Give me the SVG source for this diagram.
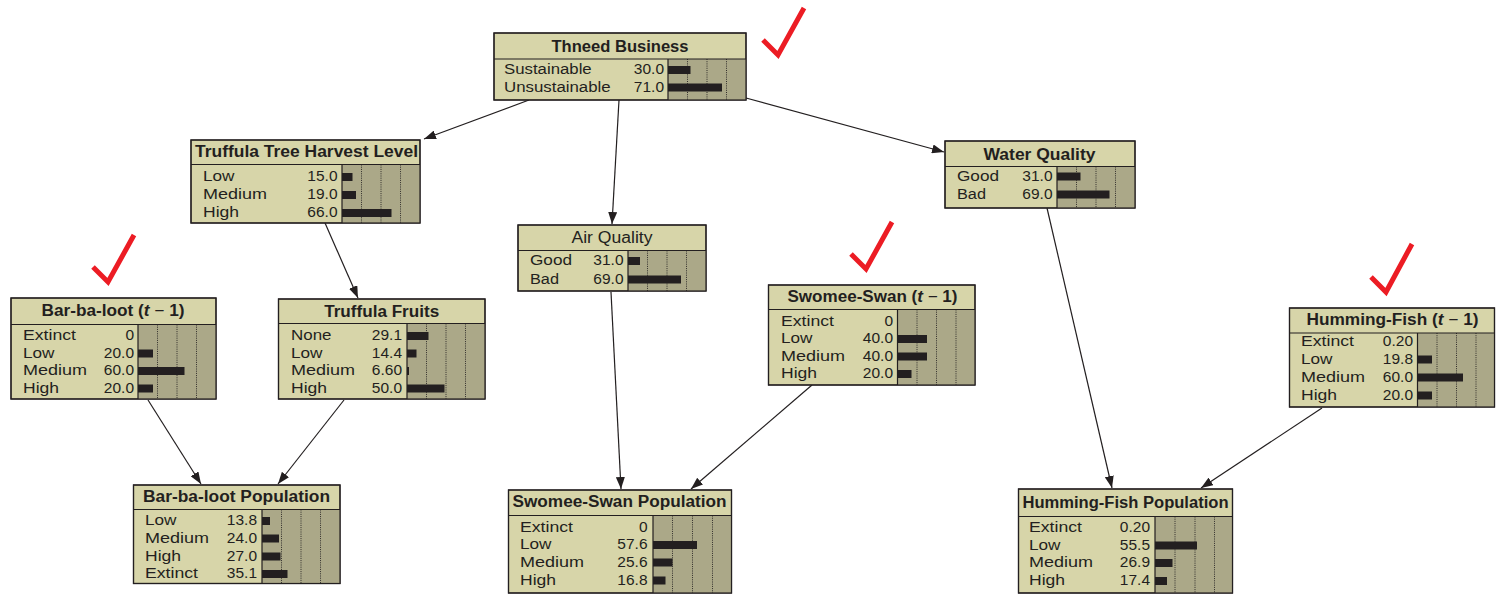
<svg xmlns="http://www.w3.org/2000/svg" width="1496" height="595" viewBox="0 0 1496 595">
  <defs>
    <style>
      .box { fill: #d7d5a9; stroke: #231f20; stroke-width: 1.2; }
      .frame { fill: none; stroke: #231f20; stroke-width: 1.2; }
      .chart { fill: #aba888; stroke: none; }
      .rule { stroke: #231f20; stroke-width: 1.2; fill: none; }
      .grid { stroke: #231f20; stroke-width: 0.9; stroke-dasharray: 1 1.2; fill: none; }
      .ttl { font-family: "Liberation Sans", Arial, sans-serif; font-size: 16px; font-weight: bold; fill: #231f20; text-anchor: middle; }
      .ttl-plain { font-weight: normal; }
      .lbl { font-family: "Liberation Sans", Arial, sans-serif; font-size: 15.5px; fill: #231f20; }
      .val { font-family: "Liberation Sans", Arial, sans-serif; font-size: 15.5px; fill: #231f20; text-anchor: end; }
      .bar { fill: #231f20; }
      .edge { stroke: #231f20; stroke-width: 1.2; fill: none; marker-end: url(#arrow); }
      .check { stroke: #ec1c24; stroke-width: 5; fill: none; stroke-linejoin: miter; stroke-linecap: butt; }
    </style>
    <marker id="arrow" markerUnits="userSpaceOnUse" markerWidth="12" markerHeight="9" refX="12" refY="4.5" orient="auto">
      <path d="M0,0 L12,4.5 L0,9 Z" fill="#231f20"/>
    </marker>
  </defs>

  <rect width="1496" height="595" fill="#ffffff"/>

  <!-- connectors -->
  <g id="connectors">
    <line class="edge" x1="529" y1="100" x2="424" y2="139"/>
    <line class="edge" x1="619" y1="100" x2="612" y2="224"/>
    <line class="edge" x1="746" y1="98" x2="944" y2="152"/>
    <line class="edge" x1="325" y1="223" x2="358" y2="298"/>
    <line class="edge" x1="148" y1="400" x2="201" y2="484"/>
    <line class="edge" x1="344" y1="400" x2="278" y2="484"/>
    <line class="edge" x1="611" y1="292" x2="621" y2="489"/>
    <line class="edge" x1="812" y1="385" x2="691" y2="489"/>
    <line class="edge" x1="1047" y1="208" x2="1112" y2="488"/>
    <line class="edge" x1="1322" y1="408" x2="1201" y2="488"/>
  </g>

  <!-- Thneed Business -->
  <g id="thneed-business">
    <rect class="box" x="494" y="33" width="252" height="67"/>
    <rect class="chart" x="668" y="59" width="78" height="41"/>
    <path class="grid" d="M687.5,59V100M707,59V100M726.5,59V100"/>
    <path class="rule" d="M494,59H746M668,59V100"/>
    <rect class="frame" x="494" y="33" width="252" height="67"/>
    <text class="ttl" x="620" y="52" textLength="137" lengthAdjust="spacingAndGlyphs">Thneed Business</text>
    <text class="lbl" x="504" y="74" textLength="87.7" lengthAdjust="spacingAndGlyphs">Sustainable</text><text class="val" x="664" y="74">30.0</text>
    <text class="lbl" x="504" y="91.5" textLength="106.7" lengthAdjust="spacingAndGlyphs">Unsustainable</text><text class="val" x="664" y="91.5">71.0</text>
    <rect class="bar" x="668" y="66" width="22.5" height="8"/>
    <rect class="bar" x="668" y="83.5" width="54" height="8"/>
  </g>

  <!-- Truffula Tree Harvest Level -->
  <g id="truffula-tree-harvest-level">
    <rect class="box" x="191" y="140" width="229" height="83"/>
    <rect class="chart" x="342" y="164.5" width="78" height="58.5"/>
    <path class="grid" d="M361.5,164.5V223M381,164.5V223M400.5,164.5V223"/>
    <path class="rule" d="M191,164.5H420M342,164.5V223"/>
    <rect class="frame" x="191" y="140" width="229" height="83"/>
    <text class="ttl" x="306.5" y="157" textLength="223" lengthAdjust="spacingAndGlyphs">Truffula Tree Harvest Level</text>
    <text class="lbl" x="203" y="181" textLength="31.5" lengthAdjust="spacingAndGlyphs">Low</text><text class="val" x="337.5" y="181">15.0</text>
    <text class="lbl" x="203" y="199" textLength="64" lengthAdjust="spacingAndGlyphs">Medium</text><text class="val" x="337.5" y="199">19.0</text>
    <text class="lbl" x="203" y="217" textLength="36" lengthAdjust="spacingAndGlyphs">High</text><text class="val" x="337.5" y="217">66.0</text>
    <rect class="bar" x="342" y="173" width="10.5" height="8"/>
    <rect class="bar" x="342" y="191" width="14" height="8"/>
    <rect class="bar" x="342" y="209" width="49.5" height="8"/>
  </g>

  <!-- Air Quality -->
  <g id="air-quality">
    <rect class="box" x="518" y="225" width="188" height="66"/>
    <rect class="chart" x="628" y="250.5" width="78" height="40.5"/>
    <path class="grid" d="M647.5,250.5V291M667,250.5V291M686.5,250.5V291"/>
    <path class="rule" d="M518,250.5H706M628,250.5V291"/>
    <rect class="frame" x="518" y="225" width="188" height="66"/>
    <text class="ttl ttl-plain" x="612" y="243" textLength="81" lengthAdjust="spacingAndGlyphs">Air Quality</text>
    <text class="lbl" x="530" y="265" textLength="42" lengthAdjust="spacingAndGlyphs">Good</text><text class="val" x="623.5" y="265">31.0</text>
    <text class="lbl" x="530" y="283.5" textLength="29" lengthAdjust="spacingAndGlyphs">Bad</text><text class="val" x="623.5" y="283.5">69.0</text>
    <rect class="bar" x="628" y="257" width="12" height="8"/>
    <rect class="bar" x="628" y="275.5" width="53" height="8"/>
  </g>

  <!-- Water Quality -->
  <g id="water-quality">
    <rect class="box" x="945" y="141" width="190" height="67"/>
    <rect class="chart" x="1057" y="166.5" width="78" height="41.5"/>
    <path class="grid" d="M1076.5,166.5V208M1096,166.5V208M1115.5,166.5V208"/>
    <path class="rule" d="M945,166.5H1135M1057,166.5V208"/>
    <rect class="frame" x="945" y="141" width="190" height="67"/>
    <text class="ttl" x="1039.5" y="159.5" textLength="112" lengthAdjust="spacingAndGlyphs">Water Quality</text>
    <text class="lbl" x="957" y="180.5" textLength="42" lengthAdjust="spacingAndGlyphs">Good</text><text class="val" x="1052.5" y="180.5">31.0</text>
    <text class="lbl" x="957" y="198.5" textLength="29" lengthAdjust="spacingAndGlyphs">Bad</text><text class="val" x="1052.5" y="198.5">69.0</text>
    <rect class="bar" x="1057" y="172.5" width="23.5" height="8"/>
    <rect class="bar" x="1057" y="190.5" width="52.5" height="8"/>
  </g>

  <!-- Bar-ba-loot (t − 1) -->
  <g id="bar-ba-loot-prev">
    <rect class="box" x="11" y="298" width="205" height="101"/>
    <rect class="chart" x="138" y="324.5" width="78" height="74.5"/>
    <path class="grid" d="M157.5,324.5V399M177,324.5V399M196.5,324.5V399"/>
    <path class="rule" d="M11,324.5H216M138,324.5V399"/>
    <rect class="frame" x="11" y="298" width="205" height="101"/>
    <text class="ttl" x="113" y="316" textLength="143" lengthAdjust="spacingAndGlyphs">Bar-ba-loot (<tspan font-style="italic">t</tspan><tspan font-weight="normal"> − </tspan>1)</text>
    <text class="lbl" x="23" y="340" textLength="53" lengthAdjust="spacingAndGlyphs">Extinct</text><text class="val" x="134" y="340">0</text>
    <text class="lbl" x="23" y="357.5" textLength="31.5" lengthAdjust="spacingAndGlyphs">Low</text><text class="val" x="134" y="357.5">20.0</text>
    <text class="lbl" x="23" y="375" textLength="64" lengthAdjust="spacingAndGlyphs">Medium</text><text class="val" x="134" y="375">60.0</text>
    <text class="lbl" x="23" y="392.5" textLength="36" lengthAdjust="spacingAndGlyphs">High</text><text class="val" x="134" y="392.5">20.0</text>
    <rect class="bar" x="138" y="349.5" width="15" height="8"/>
    <rect class="bar" x="138" y="367" width="46.5" height="8"/>
    <rect class="bar" x="138" y="384.5" width="15" height="8"/>
  </g>

  <!-- Truffula Fruits -->
  <g id="truffula-fruits">
    <rect class="box" x="278.5" y="299" width="206.5" height="100"/>
    <rect class="chart" x="407" y="323.5" width="78" height="75.5"/>
    <path class="grid" d="M426.5,323.5V399M446,323.5V399M465.5,323.5V399"/>
    <path class="rule" d="M278.5,323.5H485M407,323.5V399"/>
    <rect class="frame" x="278.5" y="299" width="206.5" height="100"/>
    <text class="ttl" x="381.7" y="316.5" textLength="115" lengthAdjust="spacingAndGlyphs">Truffula Fruits</text>
    <text class="lbl" x="291" y="340" textLength="40.5" lengthAdjust="spacingAndGlyphs">None</text><text class="val" x="402" y="340">29.1</text>
    <text class="lbl" x="291" y="357.5" textLength="31.5" lengthAdjust="spacingAndGlyphs">Low</text><text class="val" x="402" y="357.5">14.4</text>
    <text class="lbl" x="291" y="375" textLength="64" lengthAdjust="spacingAndGlyphs">Medium</text><text class="val" x="402" y="375">6.60</text>
    <text class="lbl" x="291" y="392.5" textLength="36" lengthAdjust="spacingAndGlyphs">High</text><text class="val" x="402" y="392.5">50.0</text>
    <rect class="bar" x="407" y="332" width="21.5" height="8"/>
    <rect class="bar" x="407" y="349.5" width="9.5" height="8"/>
    <rect class="bar" x="407" y="367" width="2" height="8"/>
    <rect class="bar" x="407" y="384.5" width="37.5" height="8"/>
  </g>

  <!-- Swomee-Swan (t − 1) -->
  <g id="swomee-swan-prev">
    <rect class="box" x="768.5" y="285" width="206.5" height="100"/>
    <rect class="chart" x="897.5" y="309.5" width="77.5" height="75.5"/>
    <path class="grid" d="M917,309.5V385M936.5,309.5V385M956,309.5V385"/>
    <path class="rule" d="M768.5,309.5H975M897.5,309.5V385"/>
    <rect class="frame" x="768.5" y="285" width="206.5" height="100"/>
    <text class="ttl" x="872.5" y="302" textLength="170" lengthAdjust="spacingAndGlyphs">Swomee-Swan (<tspan font-style="italic">t</tspan><tspan font-weight="normal"> − </tspan>1)</text>
    <text class="lbl" x="781" y="325.5" textLength="53" lengthAdjust="spacingAndGlyphs">Extinct</text><text class="val" x="893" y="325.5">0</text>
    <text class="lbl" x="781" y="343" textLength="31.5" lengthAdjust="spacingAndGlyphs">Low</text><text class="val" x="893" y="343">40.0</text>
    <text class="lbl" x="781" y="360.5" textLength="64" lengthAdjust="spacingAndGlyphs">Medium</text><text class="val" x="893" y="360.5">40.0</text>
    <text class="lbl" x="781" y="378" textLength="36" lengthAdjust="spacingAndGlyphs">High</text><text class="val" x="893" y="378">20.0</text>
    <rect class="bar" x="897.5" y="335" width="29.5" height="8"/>
    <rect class="bar" x="897.5" y="352.5" width="29.5" height="8"/>
    <rect class="bar" x="897.5" y="370" width="14" height="8"/>
  </g>

  <!-- Humming-Fish (t − 1) -->
  <g id="humming-fish-prev">
    <rect class="box" x="1289.5" y="308" width="205" height="99"/>
    <rect class="chart" x="1417.5" y="333" width="77" height="74"/>
    <path class="grid" d="M1437,333V407M1456.5,333V407M1476,333V407"/>
    <path class="rule" d="M1289.5,333H1494.5M1417.5,333V407"/>
    <rect class="frame" x="1289.5" y="308" width="205" height="99"/>
    <text class="ttl" x="1392.5" y="325" textLength="172" lengthAdjust="spacingAndGlyphs">Humming-Fish (<tspan font-style="italic">t</tspan><tspan font-weight="normal"> − </tspan>1)</text>
    <text class="lbl" x="1301" y="345.5" textLength="53" lengthAdjust="spacingAndGlyphs">Extinct</text><text class="val" x="1413" y="345.5">0.20</text>
    <text class="lbl" x="1301" y="363.5" textLength="31.5" lengthAdjust="spacingAndGlyphs">Low</text><text class="val" x="1413" y="363.5">19.8</text>
    <text class="lbl" x="1301" y="381.5" textLength="64" lengthAdjust="spacingAndGlyphs">Medium</text><text class="val" x="1413" y="381.5">60.0</text>
    <text class="lbl" x="1301" y="399.5" textLength="36" lengthAdjust="spacingAndGlyphs">High</text><text class="val" x="1413" y="399.5">20.0</text>
    <rect class="bar" x="1417.5" y="355.5" width="14.5" height="8"/>
    <rect class="bar" x="1417.5" y="373.5" width="45.5" height="8"/>
    <rect class="bar" x="1417.5" y="391.5" width="14.5" height="8"/>
  </g>

  <!-- Bar-ba-loot Population -->
  <g id="bar-ba-loot-population">
    <rect class="box" x="133.5" y="485" width="206.5" height="98.5"/>
    <rect class="chart" x="262" y="509.5" width="78" height="74"/>
    <path class="grid" d="M281.5,509.5V583.5M301,509.5V583.5M320.5,509.5V583.5"/>
    <path class="rule" d="M133.5,509.5H340M262,509.5V583.5"/>
    <rect class="frame" x="133.5" y="485" width="206.5" height="98.5"/>
    <text class="ttl" x="236.5" y="501.5" textLength="187" lengthAdjust="spacingAndGlyphs">Bar-ba-loot Population</text>
    <text class="lbl" x="145" y="525" textLength="31.5" lengthAdjust="spacingAndGlyphs">Low</text><text class="val" x="257" y="525">13.8</text>
    <text class="lbl" x="145" y="542.5" textLength="64" lengthAdjust="spacingAndGlyphs">Medium</text><text class="val" x="257" y="542.5">24.0</text>
    <text class="lbl" x="145" y="560.5" textLength="36" lengthAdjust="spacingAndGlyphs">High</text><text class="val" x="257" y="560.5">27.0</text>
    <text class="lbl" x="145" y="578" textLength="53" lengthAdjust="spacingAndGlyphs">Extinct</text><text class="val" x="257" y="578">35.1</text>
    <rect class="bar" x="262" y="517" width="8" height="8"/>
    <rect class="bar" x="262" y="534.5" width="17" height="8"/>
    <rect class="bar" x="262" y="552.5" width="18.5" height="8"/>
    <rect class="bar" x="262" y="570" width="25.5" height="8"/>
  </g>

  <!-- Swomee-Swan Population -->
  <g id="swomee-swan-population">
    <rect class="box" x="508.5" y="490" width="223" height="103"/>
    <rect class="chart" x="653" y="515.5" width="78.5" height="77.5"/>
    <path class="grid" d="M672.5,515.5V593M692.5,515.5V593M712.5,515.5V593"/>
    <path class="rule" d="M508.5,515.5H731.5M653,515.5V593"/>
    <rect class="frame" x="508.5" y="490" width="223" height="103"/>
    <text class="ttl" x="619.5" y="507" textLength="214" lengthAdjust="spacingAndGlyphs">Swomee-Swan Population</text>
    <text class="lbl" x="520" y="531.5" textLength="53" lengthAdjust="spacingAndGlyphs">Extinct</text><text class="val" x="647.5" y="531.5">0</text>
    <text class="lbl" x="520" y="549" textLength="31.5" lengthAdjust="spacingAndGlyphs">Low</text><text class="val" x="647.5" y="549">57.6</text>
    <text class="lbl" x="520" y="566.5" textLength="64" lengthAdjust="spacingAndGlyphs">Medium</text><text class="val" x="647.5" y="566.5">25.6</text>
    <text class="lbl" x="520" y="584.5" textLength="36" lengthAdjust="spacingAndGlyphs">High</text><text class="val" x="647.5" y="584.5">16.8</text>
    <rect class="bar" x="653" y="541" width="44" height="8"/>
    <rect class="bar" x="653" y="558.5" width="19.5" height="8"/>
    <rect class="bar" x="653" y="576.5" width="12.5" height="8"/>
  </g>

  <!-- Humming-Fish Population -->
  <g id="humming-fish-population">
    <rect class="box" x="1018.5" y="489" width="214" height="104"/>
    <rect class="chart" x="1155" y="516.5" width="77.5" height="76.5"/>
    <path class="grid" d="M1175,516.5V593M1195,516.5V593M1214.5,516.5V593"/>
    <path class="rule" d="M1018.5,516.5H1232.5M1155,516.5V593"/>
    <rect class="frame" x="1018.5" y="489" width="214" height="104"/>
    <text class="ttl" x="1125.5" y="507.5" textLength="206" lengthAdjust="spacingAndGlyphs">Humming-Fish Population</text>
    <text class="lbl" x="1029" y="531.5" textLength="53" lengthAdjust="spacingAndGlyphs">Extinct</text><text class="val" x="1150" y="531.5">0.20</text>
    <text class="lbl" x="1029" y="549.5" textLength="31.5" lengthAdjust="spacingAndGlyphs">Low</text><text class="val" x="1150" y="549.5">55.5</text>
    <text class="lbl" x="1029" y="567" textLength="64" lengthAdjust="spacingAndGlyphs">Medium</text><text class="val" x="1150" y="567">26.9</text>
    <text class="lbl" x="1029" y="585" textLength="36" lengthAdjust="spacingAndGlyphs">High</text><text class="val" x="1150" y="585">17.4</text>
    <rect class="bar" x="1155" y="541.5" width="42" height="8"/>
    <rect class="bar" x="1155" y="559" width="17.5" height="8"/>
    <rect class="bar" x="1155" y="577" width="12" height="8"/>
  </g>

  <!-- check marks -->
  <g id="checks">
    <polyline class="check" points="763,40 778,55 804,8"/>
    <polyline class="check" points="93,267 108,282 134,235"/>
    <polyline class="check" points="851,254 866,269 892,222"/>
    <polyline class="check" points="1371,277 1386,292 1412,244"/>
  </g>
</svg>
